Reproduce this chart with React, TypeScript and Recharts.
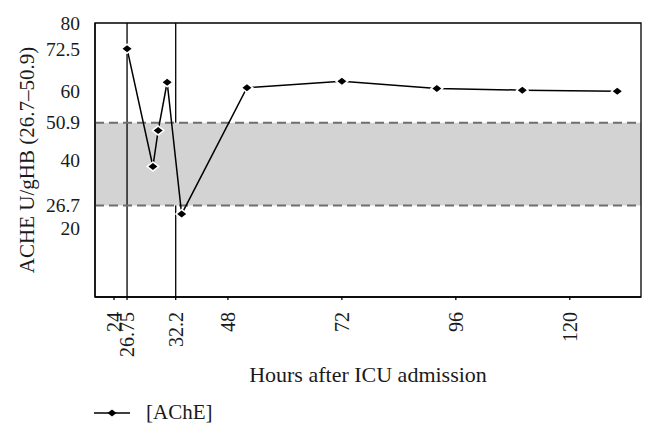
import React from 'react';
import { LineChart, Line, XAxis, YAxis, ReferenceArea, ReferenceLine, Legend } from 'recharts';

const hours = [26.75, 32.2, 33.3, 35.2, 38.25, 52, 72, 92, 110, 130];
const ache = [72.5, 38.1, 48.6, 62.7, 24.2, 61.1, 63.0, 60.9, 60.4, 60.1];

const xTicks = [24, 26.75, 37, 48, 72, 96, 120];
const xTickLabels = ['24', '26.75', '32.2', '48', '72', '96', '120'];
const yTicks = [20, 26.7, 40, 50.9, 60, 72.5, 80];
const yTickLabels = ['20', '26.7', '40', '50.9', '60', '72.5', '80'];

const normalLow = 26.7;
const normalHigh = 50.9;
const markerLines = [26.75];
const gapLine = 37;

const data = hours.map((h, i) => ({ hour: h, ache: ache[i] }));

const FONT = '"Liberation Serif", "DejaVu Serif", serif';
const INK = '#1a1a1a';

const XTick = (props: any) => {
  const { x, y, payload } = props;
  const idx = xTicks.indexOf(payload.value);
  const label = idx >= 0 ? xTickLabels[idx] : String(payload.value);
  return (
    <text
      x={x}
      y={y}
      transform={`rotate(-90 ${x} ${y})`}
      textAnchor="end"
      dy="0.35em"
      fontFamily={FONT}
      fontSize={20}
      fill={INK}
    >
      {label}
    </text>
  );
};

const YTick = (props: any) => {
  const { x, y, payload } = props;
  const idx = yTicks.indexOf(payload.value);
  const label = idx >= 0 ? yTickLabels[idx] : String(payload.value);
  return (
    <text x={x} y={y} textAnchor="end" dy="0.35em" fontFamily={FONT} fontSize={19.5} fill={INK}>
      {label}
    </text>
  );
};

const Diamond = (props: any) => {
  const { cx, cy } = props;
  if (cx == null || cy == null) return null;
  return (
    <g>
      <polygon
        points={`${cx - 7},${cy} ${cx},${cy - 5.5} ${cx + 7},${cy} ${cx},${cy + 5.5}`}
        fill="#fff"
      />
      <polygon
        points={`${cx - 4.5},${cy} ${cx},${cy - 3.5} ${cx + 4.5},${cy} ${cx},${cy + 3.5}`}
        fill="#000"
      />
    </g>
  );
};

const YLabel = (props: any) => {
  const vb = props.viewBox || {};
  const x = (vb.x || 0) + 19;
  const y = (vb.y || 0) + (vb.height || 0) / 2;
  return (
    <text
      x={x}
      y={y}
      transform={`rotate(-90 ${x} ${y})`}
      textAnchor="middle"
      dy="0.35em"
      fontFamily={FONT}
      fontSize={21}
      fill={INK}
    >
      ACHE U/gHB (26.7–50.9)
    </text>
  );
};

const XLabel = (props: any) => {
  const vb = props.viewBox || {};
  const x = (vb.x || 0) + (vb.width || 0) / 2;
  const y = (vb.y || 0) + 77;
  return (
    <text x={x} y={y} textAnchor="middle" dy="0.35em" fontFamily={FONT} fontSize={22} fill={INK}>
      Hours after ICU admission
    </text>
  );
};

const LegendContent = () => (
  <div style={{ display: 'flex', alignItems: 'center', fontFamily: FONT, fontSize: 21, color: INK, whiteSpace: 'nowrap' }}>
    <svg width={36} height={10} style={{ display: 'block' }}>
      <line x1={0} x2={36} y1={5} y2={5} stroke="#000" strokeWidth={1.5} />
      <polygon points="13.5,5 18,1.5 22.5,5 18,8.5" fill="#000" />
    </svg>
    <span style={{ marginLeft: 16 }}>[AChE]</span>
  </div>
);

export default function App() {
  return (
    <LineChart
      width={648}
      height={427}
      data={data}
      margin={{ top: 15, right: 15, bottom: 48, left: 0 }}
    >
      <XAxis
        type="number"
        dataKey="hour"
        domain={[20, 135]}
        ticks={xTicks}
        interval={0}
        tick={<XTick />}
        tickSize={3}
        tickMargin={12}
        height={90}
        axisLine={{ stroke: '#000', strokeWidth: 1.3 }}
        tickLine={{ stroke: '#000', strokeWidth: 1.3 }}
        allowDataOverflow
        label={<XLabel />}
      />
      <YAxis
        type="number"
        dataKey="ache"
        domain={[0, 80]}
        ticks={yTicks}
        interval={0}
        width={87}
        tickLine={false}
        tickSize={6}
        tickMargin={9}
        tick={<YTick />}
        axisLine={{ stroke: '#000', strokeWidth: 1.3 }}
        allowDataOverflow
        label={<YLabel />}
      />
      <ReferenceArea y1={normalLow} y2={normalHigh} fill="#d3d3d3" fillOpacity={1} stroke="none" />
      {markerLines.map((h) => (
        <ReferenceLine key={h} x={h} stroke="#000" strokeWidth={1.3} />
      ))}
      <ReferenceLine
        segment={[{ x: gapLine, y: 0 }, { x: gapLine, y: normalLow }]}
        stroke="#000"
        strokeWidth={1.3}
      />
      <ReferenceLine
        segment={[{ x: gapLine, y: normalHigh }, { x: gapLine, y: 80 }]}
        stroke="#000"
        strokeWidth={1.3}
      />
      <ReferenceLine y={normalHigh} stroke="#6e6e6e" strokeWidth={2} strokeDasharray="9 5" />
      <ReferenceLine y={normalLow} stroke="#6e6e6e" strokeWidth={2} strokeDasharray="9 5" />
      <ReferenceArea x1={20} x2={135} y1={0} y2={80} fill="none" stroke="#000" strokeWidth={1.3} />
      <Line
        type="linear"
        dataKey="ache"
        stroke="#000"
        strokeWidth={1.5}
        dot={<Diamond />}
        activeDot={false}
        isAnimationActive={false}
        name="[AChE]"
      />
      <Legend
        layout="horizontal"
        verticalAlign="middle"
        align="center"
        content={<LegendContent />}
        wrapperStyle={{ top: 392, left: 86, width: 'auto', height: 'auto' }}
      />
    </LineChart>
  );
}
